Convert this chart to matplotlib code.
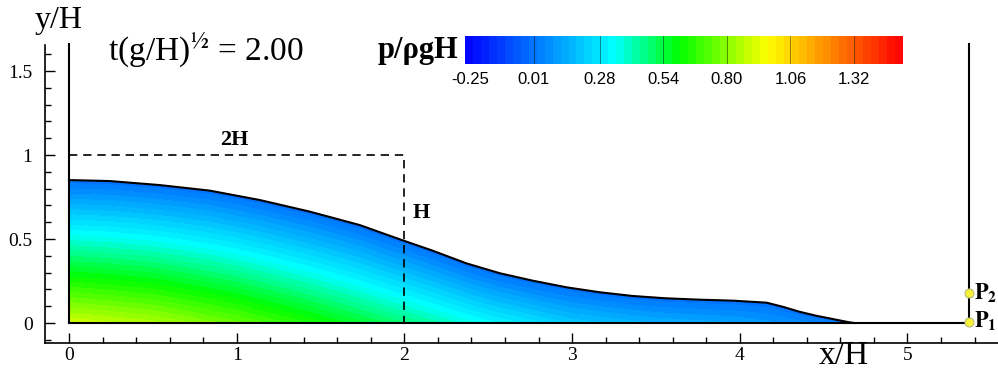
import matplotlib
matplotlib.use("Agg")
import matplotlib.pyplot as plt
import numpy as np
from matplotlib.colors import LinearSegmentedColormap
from matplotlib.ticker import MultipleLocator, FixedLocator

plt.rcParams['font.family'] = ['Liberation Serif', 'DejaVu Serif']
plt.rcParams['mathtext.fontset'] = 'stix'

# free surface at t(g/H)^1/2 = 2.00
surf_x = [0.0, 0.244, 0.542, 0.840, 1.138, 1.436, 1.734, 1.973, 2.17, 2.37,
          2.57, 2.765, 2.97, 3.165, 3.36, 3.56, 3.76, 3.96, 4.16, 4.255,
          4.356, 4.457, 4.553, 4.654, 4.684]
surf_y = [0.851, 0.845, 0.821, 0.788, 0.732, 0.663, 0.583, 0.498, 0.43, 0.355,
          0.296, 0.252, 0.212, 0.183, 0.161, 0.147, 0.139, 0.133, 0.121, 0.097,
          0.067, 0.043, 0.024, 0.004, 0.0]

# pressure on the bed, p/rhogH
bed_x = [0.0, 0.5, 1.0, 1.5, 2.0, 2.5, 3.0, 3.5, 4.0, 4.5, 4.68]
bed_p = [0.90, 0.85, 0.75, 0.62, 0.48, 0.33, 0.21, 0.15, 0.12, 0.05, 0.0]

cbar_ticks = [-0.25, 0.01, 0.28, 0.54, 0.80, 1.06, 1.32]
cbar_labels = ['-0.25', '0.01', '0.28', '0.54', '0.80', '1.06', '1.32']

tank_length = 5.37
probe_y = [0.008, 0.177]
probe_names = [r'$\mathbf{P_1}$', r'$\mathbf{P_2}$']

# tecplot-like rainbow
cmap = LinearSegmentedColormap.from_list(
    'rainbow_tp', [(0.0, '#0000ff'), (0.34, '#00ffff'), (0.49, '#00ff00'),
                   (0.69, '#ffff00'), (1.0, '#ff0000')])
levels = np.linspace(-0.27, 1.52, 56)

fig = plt.figure(figsize=(9.98, 3.75), dpi=100)
ax = fig.add_axes([45/998, 32/375, 953/998, 298/375])
ax.set_xlim(-0.143, 5.54)
ax.set_ylim(-0.119, 1.655)

# field on a grid that follows the free surface
xs = np.linspace(0, surf_x[-1], 400)
eta = np.interp(xs, surf_x, surf_y)
pb = np.interp(xs, bed_x, bed_p)
s = np.linspace(0, 1, 80)
X, S = np.meshgrid(xs, s)
Y = S * eta[None, :]
P = pb[None, :] * (1 - S)
cf = ax.contourf(X, Y, P, levels=levels, cmap=cmap)

ax.plot(surf_x, surf_y, color='black', lw=1.5, solid_joinstyle='round')

# tank
ax.plot([0, 0], [0, 1.66], color='black', lw=1.5, clip_on=False)
ax.plot([tank_length, tank_length], [0, 1.66], color='black', lw=1.5, clip_on=False)
ax.plot([0, tank_length], [0, 0], color='black', lw=1.5)

# initial water column
ax.plot([0, 2, 2], [1, 1, 0], color='black', lw=1.2, ls=(0, (5, 3.5)))
ax.text(0.985, 1.09, '2H', fontsize=16, fontweight='bold', ha='center', va='center')
ax.text(2.05, 0.652, 'H', fontsize=16, fontweight='bold', ha='left', va='center')

# probes
for py, name in zip(probe_y, probe_names):
    ax.plot(tank_length, py, 'o', ms=6.5, mfc='#f6f23a', mec='#b8b878', mew=0.8, clip_on=False, zorder=5)
    ax.text(tank_length + 0.025, py, name, fontsize=16, ha='left', va='center', clip_on=False)

for side in ['top', 'right']:
    ax.spines[side].set_visible(False)
ax.spines['left'].set_linewidth(1.2)
ax.spines['bottom'].set_linewidth(1.2)
ax.xaxis.set_major_locator(FixedLocator([0, 1, 2, 3, 4, 5]))
ax.xaxis.set_minor_locator(MultipleLocator(0.2))
ax.yaxis.set_major_locator(FixedLocator([0, 0.5, 1, 1.5]))
ax.yaxis.set_minor_locator(MultipleLocator(0.1))
ax.set_yticklabels(['0', '0.5', '1', '1.5'])
ax.tick_params(which='both', direction='in', labelsize=14, width=1)
ax.tick_params(which='major', length=7)
ax.tick_params(which='minor', length=4)
ax.tick_params(axis='x', pad=3)
ax.tick_params(axis='y', pad=9)

ax.text(4.62, -0.196, 'x/H', fontsize=24, ha='center', va='center', clip_on=False)
ax.text(-0.06, 1.80, 'y/H', fontsize=23, ha='center', va='center', clip_on=False)
ax.text(0.235, 1.62, r't(g/H)$^{½}$ = 2.00', fontsize=24, ha='left', va='center')
ax.text(2.32, 1.625, r'p/ρgH', fontsize=22, fontweight='bold', ha='right', va='center')

# colorbar
cax = fig.add_axes([465/998, (375-64)/375, 438/998, 28/375])
cb = fig.colorbar(cf, cax=cax, orientation='horizontal')
cb.outline.set_visible(False)
cb.set_ticks(cbar_ticks)
cb.set_ticklabels(cbar_labels)
cax.tick_params(length=0, labelsize=12, pad=6)
for lab in cax.get_xticklabels():
    lab.set_fontfamily('Liberation Sans')
for t in cbar_ticks[1:]:
    cax.axvline(t, color='black', lw=0.6, alpha=0.5)

fig.savefig('out.png', dpi=100)
